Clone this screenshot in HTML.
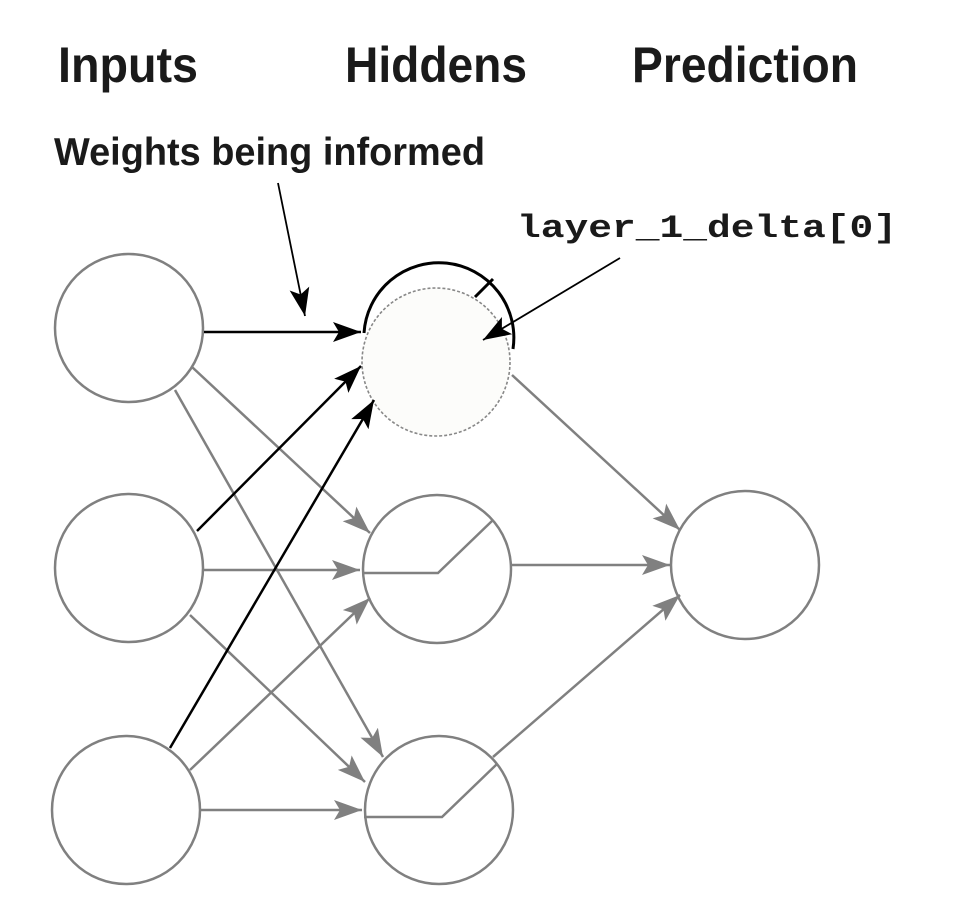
<!DOCTYPE html>
<html><head><meta charset="utf-8"><style>html,body{margin:0;padding:0;background:#fff}svg{display:block}</style></head>
<body>
<svg width="956" height="916" viewBox="0 0 956 916" xmlns="http://www.w3.org/2000/svg">
<defs>
<marker id="ab" markerUnits="userSpaceOnUse" markerWidth="32" markerHeight="24" refX="28" refY="10" orient="auto"><path d="M0,0 L28,10 L0,20 L6,10 Z" fill="#000"/></marker>
<marker id="ag" markerUnits="userSpaceOnUse" markerWidth="32" markerHeight="24" refX="28" refY="10" orient="auto"><path d="M0,0 L28,10 L0,20 L6,10 Z" fill="#808080"/></marker>
</defs>
<g font-family="Liberation Sans, sans-serif" font-weight="bold" fill="#1a1a1a">
<text x="58" y="82" font-size="50" textLength="140" lengthAdjust="spacingAndGlyphs">Inputs</text>
<text x="345" y="82" font-size="50" textLength="182" lengthAdjust="spacingAndGlyphs">Hiddens</text>
<text x="632" y="82" font-size="50" textLength="226" lengthAdjust="spacingAndGlyphs">Prediction</text>
<text x="54" y="165" font-size="39" textLength="431" lengthAdjust="spacingAndGlyphs">Weights being informed</text>
</g>
<text x="517" y="237" font-family="Liberation Mono, monospace" font-weight="bold" font-size="32" fill="#1a1a1a" textLength="380" lengthAdjust="spacingAndGlyphs">layer_1_delta[0]</text>

<g fill="none" stroke="#808080" stroke-width="2.5">
<circle cx="129" cy="328" r="74" fill="#fff"/>
<circle cx="129" cy="568" r="74" fill="#fff"/>
<circle cx="126" cy="810" r="74" fill="#fff"/>
<circle cx="437" cy="569" r="74" fill="#fff"/>
<circle cx="439" cy="810" r="74" fill="#fff"/>
<circle cx="745" cy="565" r="74" fill="#fff"/>
<polyline points="362,573 438,573 493,520"/>
<polyline points="364,817 442,817 497,764"/>
</g>
<g stroke="#808080" stroke-width="2.5" fill="none">
<line x1="192" y1="367" x2="370" y2="533" marker-end="url(#ag)"/>
<line x1="175" y1="390" x2="383" y2="757" marker-end="url(#ag)"/>
<line x1="204" y1="570" x2="360" y2="570" marker-end="url(#ag)"/>
<line x1="190" y1="615" x2="365" y2="782" marker-end="url(#ag)"/>
<line x1="190" y1="770" x2="370" y2="598" marker-end="url(#ag)"/>
<line x1="200" y1="810" x2="362" y2="810" marker-end="url(#ag)"/>
<line x1="512" y1="375" x2="680" y2="530" marker-end="url(#ag)"/>
<line x1="512" y1="565" x2="670" y2="565" marker-end="url(#ag)"/>
<line x1="493" y1="757" x2="680" y2="595" marker-end="url(#ag)"/>
</g>
<path d="M364,333 A75,75 0 1 1 513,349" fill="none" stroke="#000" stroke-width="3"/>
<line x1="475" y1="297" x2="493" y2="279" stroke="#000" stroke-width="3"/>
<circle cx="436" cy="362" r="74" fill="#fcfcfa" stroke="#888" stroke-width="1.6" stroke-dasharray="3 2"/>
<g stroke="#000" stroke-width="2.5" fill="none">
<line x1="204" y1="332" x2="361" y2="332" marker-end="url(#ab)"/>
<line x1="197" y1="531" x2="361" y2="366" marker-end="url(#ab)"/>
<line x1="170" y1="748" x2="374" y2="400" marker-end="url(#ab)"/>
<line x1="278" y1="183" x2="305" y2="316" stroke-width="1.8" marker-end="url(#ab)"/>
<line x1="620" y1="258" x2="483" y2="340" stroke-width="1.8" marker-end="url(#ab)"/>
</g>
</svg>
</body></html>
